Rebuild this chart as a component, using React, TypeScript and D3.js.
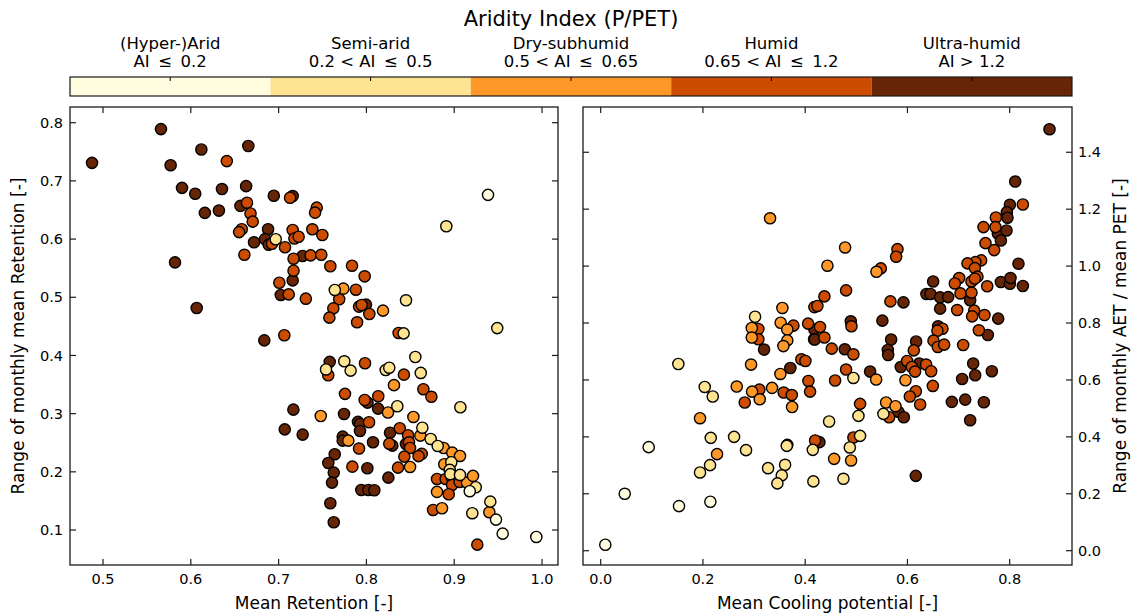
import * as d3 from "d3";

// aridity classes (YlOrBr bins)
const classNames = ["(Hyper-)Arid", "Semi-arid", "Dry-subhumid", "Humid", "Ultra-humid"];
const classRanges = [
  "AI \u2009\u2264\u2009 0.2",
  "0.2 < AI \u2009\u2264\u2009 0.5",
  "0.5 < AI \u2009\u2264\u2009 0.65",
  "0.65 < AI \u2009\u2264\u2009 1.2",
  "AI > 1.2",
];
const classColors = ["#fffcdf", "#fee391", "#fe9929", "#cc4c02", "#662506"];

// left panel: [mean retention, range of monthly mean retention, class]
const retentionPoints: [number, number, number][] = [
  // ultra-humid
  [0.4875, 0.731, 4], [0.566, 0.789, 4], [0.577, 0.727, 4], [0.612, 0.754, 4], [0.6655, 0.76, 4],
  [0.59, 0.688, 4], [0.605, 0.678, 4], [0.6355, 0.686, 4], [0.663, 0.691, 4], [0.616, 0.645, 4],
  [0.632, 0.649, 4], [0.6565, 0.657, 4], [0.688, 0.617, 4], [0.672, 0.5945, 4], [0.582, 0.56, 4],
  [0.6945, 0.6745, 4], [0.716, 0.674, 4], [0.6845, 0.6, 4], [0.6887, 0.5904, 4], [0.7273, 0.571, 4],
  [0.716, 0.529, 4], [0.7025, 0.504, 4], [0.7995, 0.4873, 4], [0.6067, 0.4816, 4], [0.6837, 0.426, 4],
  [0.7582, 0.389, 4], [0.7168, 0.3069, 4], [0.7745, 0.2995, 4], [0.7274, 0.264, 4], [0.707, 0.273, 4],
  [0.8013, 0.319, 4], [0.8133, 0.3086, 4], [0.7904, 0.2858, 4], [0.7927, 0.2823, 4], [0.7927, 0.2703, 4],
  [0.773, 0.2605, 4], [0.773, 0.2536, 4], [0.8075, 0.2508, 4], [0.8269, 0.2673, 4], [0.8295, 0.245, 4],
  [0.845, 0.2479, 4], [0.7639, 0.2303, 4], [0.7566, 0.2153, 4], [0.7628, 0.1987, 4], [0.7608, 0.1815, 4],
  [0.7589, 0.146, 4], [0.7628, 0.1134, 4], [0.8011, 0.2062, 4], [0.825, 0.19, 4], [0.7942, 0.1689, 4],
  [0.8022, 0.1689, 4], [0.809, 0.1684, 4],
  // humid
  [0.641, 0.734, 3], [0.664, 0.6625, 3], [0.668, 0.644, 3], [0.6705, 0.63, 3], [0.658, 0.617, 3],
  [0.655, 0.612, 3], [0.661, 0.573, 3], [0.713, 0.671, 3], [0.6925, 0.592, 3], [0.7073, 0.586, 3],
  [0.716, 0.6156, 3], [0.718, 0.601, 3], [0.7228, 0.604, 3], [0.717, 0.5663, 3], [0.717, 0.5457, 3],
  [0.7008, 0.525, 3], [0.7115, 0.505, 3], [0.731, 0.4976, 3], [0.7434, 0.654, 3], [0.7415, 0.6454, 3],
  [0.7384, 0.6168, 3], [0.7498, 0.607, 3], [0.7365, 0.572, 3], [0.7486, 0.573, 3], [0.7589, 0.5533, 3],
  [0.7836, 0.5543, 3], [0.798, 0.536, 3], [0.788, 0.513, 3], [0.769, 0.4966, 3], [0.7623, 0.481, 3],
  [0.7578, 0.465, 3], [0.7916, 0.484, 3], [0.7946, 0.4867, 3], [0.8033, 0.4713, 3], [0.7894, 0.457, 3],
  [0.8367, 0.4387, 3], [0.7065, 0.4347, 3], [0.7565, 0.366, 3], [0.7984, 0.3866, 3], [0.8427, 0.367, 3],
  [0.8649, 0.342, 3], [0.874, 0.329, 3], [0.7756, 0.334, 3], [0.798, 0.3235, 3], [0.8135, 0.33, 3],
  [0.803, 0.2853, 3], [0.7916, 0.24, 3], [0.838, 0.2749, 3], [0.8474, 0.2629, 3], [0.826, 0.2484, 3],
  [0.8485, 0.2508, 3], [0.8497, 0.241, 3], [0.8432, 0.2262, 3], [0.863, 0.2308, 3], [0.8594, 0.227, 3],
  [0.784, 0.2089, 3], [0.836, 0.2072, 3], [0.8804, 0.1878, 3], [0.8903, 0.1878, 3], [0.8971, 0.1907, 3],
  [0.8975, 0.1775, 3], [0.9062, 0.1826, 3], [0.8937, 0.1615, 3], [0.8759, 0.1345, 3], [0.9263, 0.0749, 3],
  // dry-subhumid
  [0.7737, 0.5148, 2], [0.8189, 0.477, 2], [0.8314, 0.349, 2], [0.8246, 0.302, 2], [0.8535, 0.2943, 2],
  [0.748, 0.296, 2], [0.7794, 0.2536, 2], [0.8614, 0.2622, 2], [0.888, 0.241, 2], [0.8978, 0.233, 2],
  [0.9066, 0.2273, 2], [0.8497, 0.2084, 2], [0.8887, 0.2131, 2], [0.9146, 0.1815, 2], [0.9214, 0.193, 2],
  [0.8804, 0.1655, 2], [0.8861, 0.1374, 2], [0.94, 0.1306, 2],
  // semi-arid
  [0.6967, 0.5997, 1], [0.764, 0.5126, 1], [0.8451, 0.4948, 1], [0.8424, 0.438, 1], [0.949, 0.447, 1],
  [0.891, 0.622, 1], [0.7748, 0.39, 1], [0.754, 0.376, 1], [0.782, 0.374, 1], [0.822, 0.375, 1],
  [0.826, 0.379, 1], [0.8557, 0.3974, 1], [0.8619, 0.37, 1], [0.907, 0.311, 1], [0.8352, 0.3127, 1],
  [0.8637, 0.2759, 1], [0.8732, 0.2565, 1], [0.8812, 0.2445, 1], [0.8967, 0.2165, 1], [0.8949, 0.2033, 1],
  [0.8956, 0.196, 1], [0.9066, 0.1947, 1], [0.9245, 0.1735, 1], [0.9206, 0.1289, 1], [0.9411, 0.1488, 1],
  // (hyper-)arid
  [0.9385, 0.676, 0], [0.9177, 0.1667, 0], [0.9476, 0.1179, 0], [0.9552, 0.0938, 0], [0.9935, 0.0881, 0],
];

// right panel: [mean cooling potential, range of monthly AET / mean PET, class]
const coolingPoints: [number, number, number][] = [
  // ultra-humid
  [0.418, 0.777, 4], [0.3196, 0.7067, 4], [0.4174, 0.743, 4], [0.371, 0.642, 4], [0.365, 0.372, 4],
  [0.4278, 0.3814, 4], [0.8779, 1.481, 4], [0.8108, 1.297, 4], [0.8004, 1.2154, 4], [0.7945, 1.1895, 4],
  [0.7957, 1.17, 4], [0.7769, 1.1147, 4], [0.7938, 1.125, 4], [0.7828, 1.09, 4], [0.8172, 1.0084, 4],
  [0.7828, 0.944, 4], [0.8004, 0.938, 4], [0.8016, 0.958, 4], [0.8258, 0.93, 4], [0.6503, 0.946, 4],
  [0.6372, 0.902, 4], [0.645, 0.902, 4], [0.664, 0.89, 4], [0.6797, 0.891, 4], [0.7227, 0.88, 4],
  [0.664, 0.8505, 4], [0.7775, 0.8154, 4], [0.7573, 0.758, 4], [0.5922, 0.8726, 4], [0.4892, 0.806, 4],
  [0.551, 0.8084, 4], [0.66, 0.7884, 4], [0.5681, 0.742, 4], [0.617, 0.735, 4], [0.4188, 0.742, 4],
  [0.4775, 0.7077, 4], [0.527, 0.6294, 4], [0.5617, 0.7053, 4], [0.5623, 0.6877, 4], [0.587, 0.6456, 4],
  [0.623, 0.6575, 4], [0.7286, 0.6575, 4], [0.7651, 0.6305, 4], [0.707, 0.6035, 4], [0.7325, 0.6165, 4],
  [0.6869, 0.5228, 4], [0.713, 0.531, 4], [0.7495, 0.5218, 4], [0.7227, 0.4586, 4], [0.5824, 0.4877, 4],
  [0.5929, 0.469, 4], [0.6164, 0.263, 4],
  // humid
  [0.377, 0.791, 3], [0.4057, 0.798, 3], [0.418, 0.856, 3], [0.4239, 0.86, 3], [0.429, 0.786, 3],
  [0.3084, 0.779, 3], [0.3084, 0.743, 3], [0.3926, 0.6726, 3], [0.4004, 0.6667, 3], [0.3104, 0.566, 3],
  [0.2818, 0.5207, 3], [0.358, 0.5557, 3], [0.3738, 0.547, 3], [0.4063, 0.5965, 3], [0.4096, 0.559, 3],
  [0.4194, 0.3874, 3], [0.8258, 1.2165, 3], [0.773, 1.171, 3], [0.7487, 1.137, 3], [0.7722, 1.137, 3],
  [0.7527, 1.0807, 3], [0.7697, 1.0562, 3], [0.5805, 1.0596, 3], [0.5779, 1.033, 3], [0.548, 0.992, 3],
  [0.7442, 1.02, 3], [0.733, 1.014, 3], [0.7175, 1.0095, 3], [0.7319, 0.993, 3], [0.737, 0.963, 3],
  [0.7253, 0.946, 3], [0.7319, 0.956, 3], [0.7012, 0.958, 3], [0.6927, 0.939, 3], [0.756, 0.929, 3],
  [0.7037, 0.904, 3], [0.7253, 0.9067, 3], [0.6973, 0.8456, 3], [0.7305, 0.8435, 3], [0.7266, 0.8235, 3],
  [0.7507, 0.828, 3], [0.7397, 0.7744, 3], [0.5667, 0.876, 3], [0.48, 0.9147, 3], [0.4376, 0.8936, 3],
  [0.4376, 0.749, 3], [0.4905, 0.7884, 3], [0.6685, 0.78, 3], [0.6587, 0.773, 3], [0.651, 0.738, 3],
  [0.452, 0.71, 3], [0.4943, 0.69, 3], [0.48, 0.6365, 3], [0.4585, 0.598, 3], [0.5994, 0.6667, 3],
  [0.6086, 0.6456, 3], [0.615, 0.6294, 3], [0.6366, 0.654, 3], [0.6125, 0.704, 3], [0.6594, 0.716, 3],
  [0.6718, 0.724, 3], [0.709, 0.7228, 3], [0.6464, 0.6305, 3], [0.6497, 0.579, 3], [0.6164, 0.5604, 3],
  [0.6047, 0.5418, 3], [0.6249, 0.5137, 3], [0.5074, 0.5158, 3], [0.5642, 0.469, 3], [0.4943, 0.398, 3],
  // dry-subhumid
  [0.3313, 1.168, 2], [0.3554, 0.853, 2], [0.352, 0.801, 2], [0.2955, 0.7825, 2], [0.365, 0.777, 2],
  [0.2955, 0.749, 2], [0.365, 0.739, 2], [0.3574, 0.719, 2], [0.2941, 0.654, 2], [0.3515, 0.621, 2],
  [0.2661, 0.5768, 2], [0.2961, 0.559, 2], [0.3111, 0.532, 2], [0.3352, 0.572, 2], [0.3744, 0.505, 2],
  [0.1943, 0.4656, 2], [0.2276, 0.3393, 2], [0.4781, 1.0656, 2], [0.4435, 1.0014, 2], [0.5394, 0.98, 2],
  [0.5388, 0.6014, 2], [0.5961, 0.599, 2], [0.4566, 0.3228, 2], [0.4898, 0.3172, 2], [0.5583, 0.5207, 2],
  [0.5766, 0.5077, 2],
  // semi-arid
  [0.302, 0.822, 1], [0.1519, 0.656, 1], [0.2035, 0.5754, 1], [0.2192, 0.5418, 1], [0.2153, 0.3965, 1],
  [0.2609, 0.4, 1], [0.2843, 0.3533, 1], [0.2139, 0.3007, 1], [0.1943, 0.275, 1], [0.3274, 0.29, 1],
  [0.3607, 0.3018, 1], [0.3542, 0.2646, 1], [0.3456, 0.2365, 1], [0.364, 0.3684, 1], [0.4149, 0.3544, 1],
  [0.416, 0.2435, 1], [0.4943, 0.607, 1], [0.5042, 0.4737, 1], [0.4468, 0.454, 1], [0.553, 0.4807, 1],
  [0.5074, 0.4035, 1], [0.4873, 0.3628, 1], [0.4748, 0.2526, 1],
  // (hyper-)arid
  [0.0939, 0.3639, 0], [0.047, 0.2, 0], [0.1532, 0.1568, 0], [0.2145, 0.172, 0], [0.009, 0.021, 0],
];

const font = "DejaVu Sans, sans-serif";
const W = 1132;
const H = 616;
const top = 107;
const bottom = 565;
const tickLen = 6;
const frame = "#1a1a1a";

type PanelProps = {
  left: number;
  right: number;
  xDomain: [number, number];
  yDomain: [number, number];
  xTicks: number[];
  yTicks: number[];
  points: [number, number, number][];
  xLabel: string;
  yLabel: string;
  yRight: boolean;
};

function Panel({ left, right, xDomain, yDomain, xTicks, yTicks, points, xLabel, yLabel, yRight }: PanelProps) {
  const x = d3.scaleLinear().domain(xDomain).range([left, right]);
  const y = d3.scaleLinear().domain(yDomain).range([bottom, top]);
  const fmt = d3.format(".1f");
  const cx = (left + right) / 2;
  const cy = (top + bottom) / 2;
  return (
    <g>
      {points.map(([a, b, c], i) => (
        <circle key={i} cx={x(a)} cy={y(b)} r={5.6} fill={classColors[c]} stroke="#000" strokeWidth={1.4} />
      ))}
      <rect x={left} y={top} width={right - left} height={bottom - top} fill="none" stroke={frame} strokeWidth={1.3} />
      {xTicks.map((t) => (
        <g key={"x" + t}>
          <line x1={x(t)} x2={x(t)} y1={bottom} y2={bottom - tickLen} stroke={frame} strokeWidth={1.2} />
          <line x1={x(t)} x2={x(t)} y1={top} y2={top + tickLen} stroke={frame} strokeWidth={1.2} />
          <text x={x(t)} y={bottom + 19} textAnchor="middle" fontSize={14.5} fontFamily={font}>
            {fmt(t)}
          </text>
        </g>
      ))}
      {yTicks.map((t) => (
        <g key={"y" + t}>
          <line x1={left} x2={left + tickLen} y1={y(t)} y2={y(t)} stroke={frame} strokeWidth={1.2} />
          <line x1={right} x2={right - tickLen} y1={y(t)} y2={y(t)} stroke={frame} strokeWidth={1.2} />
          <text
            x={yRight ? right + 6 : left - 7}
            y={y(t)}
            dy="0.35em"
            textAnchor={yRight ? "start" : "end"}
            fontSize={14.5}
            fontFamily={font}
          >
            {fmt(t)}
          </text>
        </g>
      ))}
      <text x={cx} y={bottom + 44} textAnchor="middle" fontSize={17} fontFamily={font}>
        {xLabel}
      </text>
      <text
        transform={`translate(${yRight ? right + 48 : left - 52},${cy}) rotate(-90)`}
        textAnchor="middle"
        dy="0.35em"
        fontSize={17}
        fontFamily={font}
      >
        {yLabel}
      </text>
    </g>
  );
}

function App() {
  const barLeft = 70;
  const barRight = 1072;
  const barTop = 77;
  const barBottom = 96;
  const band = d3.scaleBand<number>().domain(d3.range(classNames.length)).range([barLeft, barRight]);

  return (
    <svg width={W} height={H} style={{ position: "absolute", left: 0, top: 0, background: "#fff" }}>
      <text x={(barLeft + barRight) / 2} y={26} textAnchor="middle" fontSize={21} fontFamily={font}>
        Aridity Index (P/PET)
      </text>
      {classNames.map((name, i) => {
        const c = band(i)! + band.bandwidth() / 2;
        return (
          <g key={name}>
            <rect x={band(i)} y={barTop} width={band.bandwidth()} height={barBottom - barTop} fill={classColors[i]} />
            <line x1={c} x2={c} y1={barTop} y2={barTop + 4} stroke="#000" strokeWidth={1} />
            <text x={c} y={49} textAnchor="middle" fontSize={16.5} fontFamily={font}>
              {name}
            </text>
            <text x={c} y={67} textAnchor="middle" fontSize={16.5} fontFamily={font}>
              {classRanges[i]}
            </text>
          </g>
        );
      })}
      <rect x={barLeft} y={barTop} width={barRight - barLeft} height={barBottom - barTop} fill="none" stroke={frame} strokeWidth={1.2} />

      <Panel
        left={70}
        right={558}
        xDomain={[0.4624, 1.0182]}
        yDomain={[0.0399, 0.827]}
        xTicks={[0.5, 0.6, 0.7, 0.8, 0.9, 1.0]}
        yTicks={[0.1, 0.2, 0.3, 0.4, 0.5, 0.6, 0.7, 0.8]}
        points={retentionPoints}
        xLabel="Mean Retention [-]"
        yLabel="Range of monthly mean Retention [-]"
        yRight={false}
      />
      <Panel
        left={583}
        right={1072}
        xDomain={[-0.0346, 0.9219]}
        yDomain={[-0.0502, 1.559]}
        xTicks={[0, 0.2, 0.4, 0.6, 0.8]}
        yTicks={[0, 0.2, 0.4, 0.6, 0.8, 1.0, 1.2, 1.4]}
        points={coolingPoints}
        xLabel="Mean Cooling potential [-]"
        yLabel="Range of monthly AET / mean PET [-]"
        yRight={true}
      />
    </svg>
  );
}

export default App;
